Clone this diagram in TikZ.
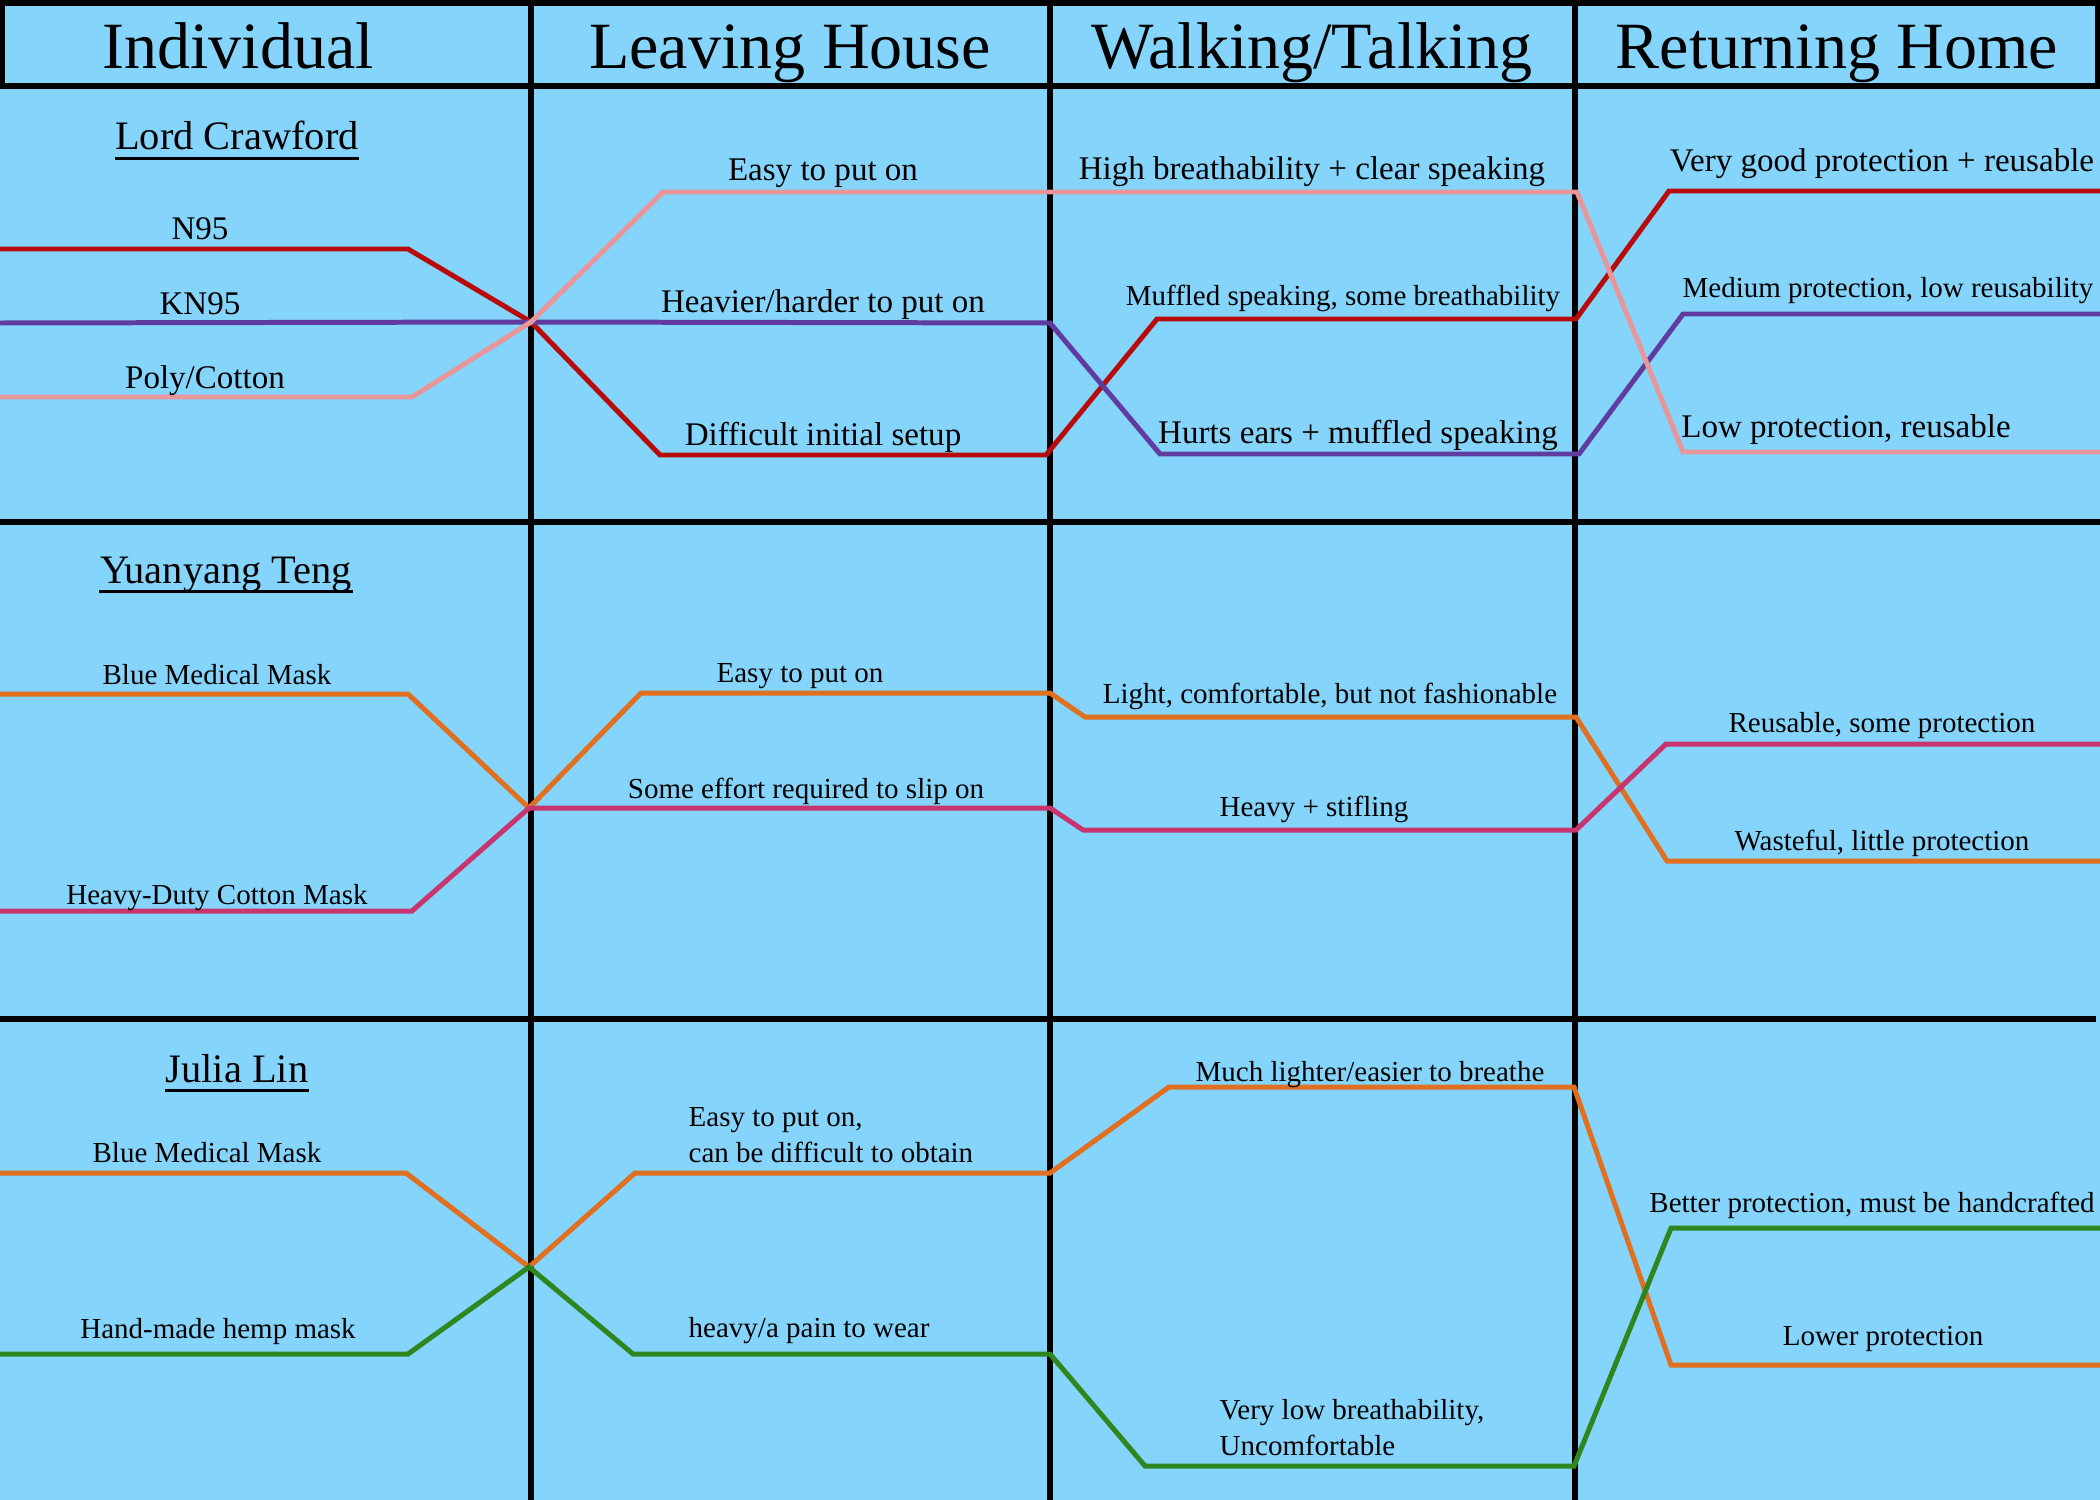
\documentclass[tikz,border=0pt]{standalone}
\usepackage{fontspec}
\setmainfont{Liberation Serif}
\usepackage{xcolor}
\usepackage{tikz}
\definecolor{clrSky}{HTML}{84D4FB}
\definecolor{clrRed}{HTML}{B80C0C}
\definecolor{clrPurple}{HTML}{603CA0}
\definecolor{clrPink}{HTML}{E8969A}
\definecolor{clrOrange}{HTML}{E07020}
\definecolor{clrMagenta}{HTML}{C8346E}
\definecolor{clrGreen}{HTML}{2E871E}
\tikzset{
  rule line/.style={line width=1.56pt, black},
  mask line/.style={line width=1.42pt, line join=miter},
  hdr text/.style={inner sep=0pt, anchor=base, font=\fontsize{18.8}{22}\selectfont},
  name text/.style={inner sep=0pt, anchor=base, font=\fontsize{11.5}{13.5}\selectfont},
  lbl/.style={inner sep=0pt, anchor=base, font=\fontsize{9.4}{11}\selectfont},
  lbl sm/.style={inner sep=0pt, anchor=base, font=\fontsize{8.25}{10.24}\selectfont, align=left},
  name ul/.style={line width=0.8pt, black},
}

\begin{document}
\begin{tikzpicture}[x=0.1mm, y=-0.1mm]
  \useasboundingbox (0,0) rectangle (2100,1500);
  \fill[clrSky] (0,0) rectangle (2100,1500);

  % Table rules
  \draw[rule line] (0,3) -- (2100,3);
  \draw[rule line] (0,86) -- (2100,86);
  \draw[rule line] (2.5,0) -- (2.5,86);
  \draw[rule line] (2097.5,0) -- (2097.5,86);
  \draw[rule line] (0,522) -- (2100,522);
  \draw[rule line] (0,1019) -- (2096,1019);
  \foreach \cx in {531,1050,1575}
    \draw[rule line] (\cx,0) -- (\cx,1500);

  % Headers
  \node[hdr text] (hIndiv) at (238,69) {Individual};
  \node[hdr text] (hLeave) at (790,69) {Leaving House};
  \node[hdr text] (hWalk) at (1312,69) {Walking/Talking};
  \node[hdr text] (hReturn) at (1837,69) {Returning Home};

  % Crossing points
  \coordinate (crossA) at (531,322);
  \coordinate (crossB) at (529,808);
  \coordinate (crossC) at (529,1267);

  % Lord Crawford
  \draw[mask line, clrRed] (0,249) -- (408,249) -- (crossA) -- (660,455) -- (1046,455) -- (1157,319) -- (1576,319) -- (1669,191) -- (2100,191);
  \draw[mask line, clrPurple] (0,323) -- (crossA) -- (1050,323) -- (1160,454) -- (1579,454) -- (1683,314) -- (2100,314);
  \draw[mask line, clrPink] (0,397) -- (412,397) -- (crossA) -- (663,192) -- (1577,192) -- (1683,452) -- (2100,452);

  % Yuanyang Teng
  \draw[mask line, clrOrange] (0,694) -- (408,694) -- (crossB) -- (641,693) -- (1050,693) -- (1085,717) -- (1576,717) -- (1667,861) -- (2100,861);
  \draw[mask line, clrMagenta] (0,911) -- (412,911) -- (crossB) -- (1050,808) -- (1083,830) -- (1576,830) -- (1666,744) -- (2100,744);

  % Julia Lin
  \draw[mask line, clrOrange] (0,1173) -- (406,1173) -- (crossC) -- (635,1173) -- (1050,1173) -- (1169,1087) -- (1574,1087) -- (1671,1365) -- (2100,1365);
  \draw[mask line, clrGreen] (0,1354) -- (408,1354) -- (crossC) -- (633,1354) -- (1050,1354) -- (1145,1466) -- (1574,1466) -- (1671,1228) -- (2100,1228);

  % Names
  \node[name text] (nmCrawford) at (237,150) {Lord Crawford};
  \node[name text] (nmTeng) at (226,583) {Yuanyang Teng};
  \node[name text] (nmLin) at (237,1082) {Julia Lin};
  \foreach \nm in {nmCrawford,nmTeng,nmLin}
    \draw[name ul] ([yshift=-2.5pt]\nm.base west) -- ([yshift=-2.5pt]\nm.base east);

  % Labels, Lord Crawford
  \node[lbl] (lcN95) at (200,240) {N95};
  \node[lbl] (lcKN95) at (200,314) {KN95};
  \node[lbl] (lcPoly) at (205,388) {Poly/Cotton};
  \node[lbl] (lcEasy) at (823,181) {Easy to put on};
  \node[lbl] (lcHeavier) at (823,312) {Heavier/harder to put on};
  \node[lbl] (lcSetup) at (823,445) {Difficult initial setup};
  \node[lbl] (lcHigh) at (1312,180) {High breathability + clear speaking};
  \node[lbl sm] (lcMuffled) at (1343,305) {Muffled speaking, some breathability};
  \node[lbl] (lcHurts) at (1358,443) {Hurts ears + muffled speaking};
  \node[lbl] (lcVeryGood) at (1882,172) {Very good protection + reusable};
  \node[lbl sm] (lcMedium) at (1888,298) {Medium protection, low reusability};
  \node[lbl] (lcLow) at (1846,437) {Low protection, reusable};

  % Labels, Yuanyang Teng
  \node[lbl sm] (ytBlue) at (217,684) {Blue Medical Mask};
  \node[lbl sm] (ytCotton) at (217,904) {Heavy-Duty Cotton Mask};
  \node[lbl sm] (ytEasy) at (800,682) {Easy to put on};
  \node[lbl sm] (ytEffort) at (806,798) {Some effort required to slip on};
  \node[lbl sm] (ytLight) at (1330,703) {Light, comfortable, but not fashionable};
  \node[lbl sm] (ytStifling) at (1314,816) {Heavy + stifling};
  \node[lbl sm] (ytReusable) at (1882,732) {Reusable, some protection};
  \node[lbl sm] (ytWasteful) at (1882,850) {Wasteful, little protection};

  % Labels, Julia Lin
  \node[lbl sm] (jlBlue) at (207,1162) {Blue Medical Mask};
  \node[lbl sm] (jlHemp) at (218,1338) {Hand-made hemp mask};
  \node[lbl sm, anchor=base west] (jlEasy) at (688,1162) {Easy to put on,\\can be difficult to obtain};
  \node[lbl sm, anchor=base west] (jlPain) at (688,1337) {heavy/a pain to wear};
  \node[lbl sm] (jlLighter) at (1370,1081) {Much lighter/easier to breathe};
  \node[lbl sm, anchor=base west] (jlLowBreath) at (1219,1455) {Very low breathability,\\Uncomfortable};
  \node[lbl sm] (jlBetter) at (1872,1212) {Better protection, must be handcrafted};
  \node[lbl sm] (jlLower) at (1883,1345) {Lower protection};
\end{tikzpicture}
\end{document}
